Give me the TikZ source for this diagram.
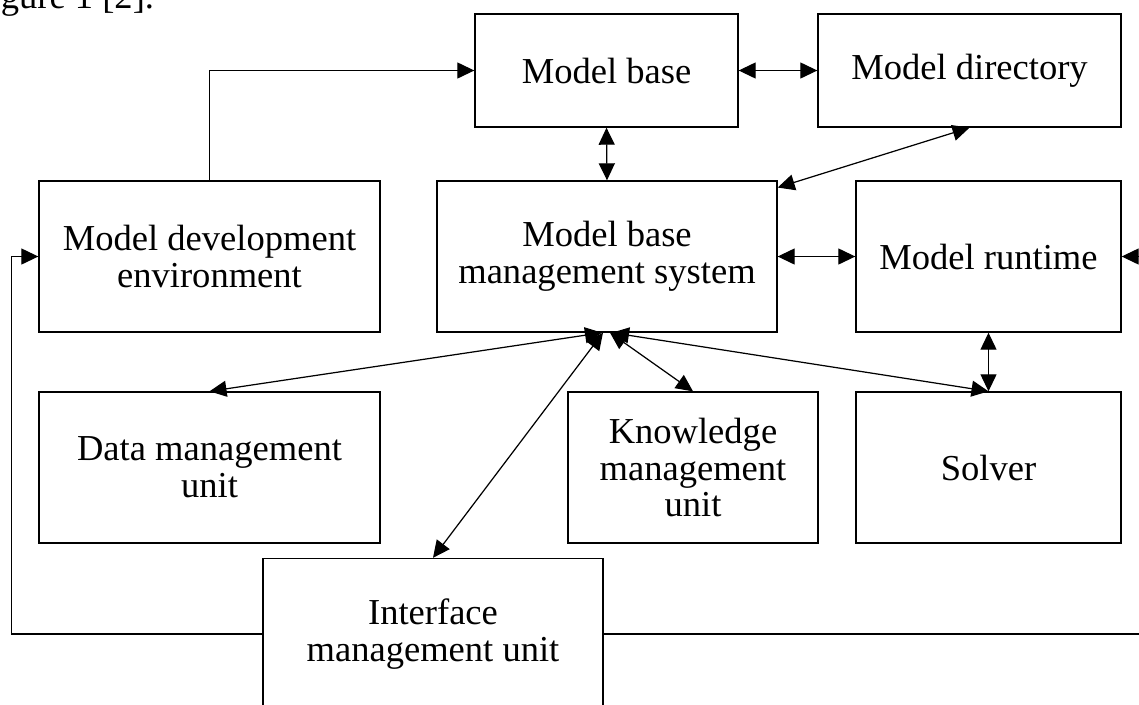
\documentclass[tikz,border=0pt]{standalone}
\usepackage{fontspec}
\setmainfont{Liberation Serif}
\usepackage{tikz}
\usetikzlibrary{arrows.meta}

\begin{document}
\begin{tikzpicture}[x=0.02cm,y=-0.02cm]
            \tikzset{vertex/.style = {shape=rectangle,draw,line width=0.8pt,inner sep=0pt,align=center,
                minimum height=3.02cm,font=\fontsize{20.8}{21}\selectfont}}
            \tikzset{edge/.style = {->,> = {Triangle[length=0.34cm,width=0.32cm]},line width=0.7pt}}
            \useasboundingbox (0,0) rectangle (1139,704);
            \clip (0,0) rectangle (1139,704);

            \node[anchor=base west,font=\fontsize{20.8}{21}\selectfont,inner sep=0pt] (cap) at (-30,8) {Figure 1 [2].};

            \node[vertex,minimum width=5.26cm,minimum height=2.26cm] (mbase) at (606.5,70.5) {Model base};
            \node[vertex,minimum width=6.06cm,minimum height=2.26cm] (mdir) at (969.5,70.5) {Model directory};
            \node[vertex,minimum width=6.82cm] (mdev) at (209.5,256.5) {Model development\\environment};
            \node[vertex,minimum width=6.80cm] (mbms) at (607,256.5) {Model base\\management system};
            \node[vertex,minimum width=5.30cm] (mrun) at (988.5,256.5) {Model runtime};
            \node[vertex,minimum width=6.82cm] (dmu) at (209.5,467.5) {Data management\\unit};
            \node[vertex,minimum width=5.00cm] (kmu) at (693,467.5) {Knowledge\\management\\unit};
            \node[vertex,minimum width=5.30cm] (solver) at (988.5,467.5) {Solver};
            \node[vertex,minimum width=6.80cm] (imu) at (433,634) {Interface\\management unit};

            \draw[edge] (mdev.north) |- (mbase.west);
            \draw[edge, <->] (mbase.east) to (mdir.west);
            \draw[edge, <->] (mbase.south) to (mbms.north);
            \draw[edge, <->] (mdir.south) to (mbms.22);
            \draw[edge, <->] (mbms.east) to (mrun.west);
            \draw[edge, <->] (mrun.south) to (solver.north);
            \draw[edge, <->] ([xshift=-0.1cm]mbms.south) to (dmu.north);
            \draw[edge, <->] ([xshift=-0.08cm]mbms.south) to (imu.north);
            \draw[edge, <->] ([xshift=0.06cm]mbms.south) to (kmu.north);
            \draw[edge, <->] ([xshift=0.1cm]mbms.south) to (solver.north);
            \draw[edge] (imu.west) -- ++(-251,0) |- (mdev.west);
            \draw[edge] (imu.east) -- ++(538,0) |- (mrun.east);
        \end{tikzpicture}
\end{document}
